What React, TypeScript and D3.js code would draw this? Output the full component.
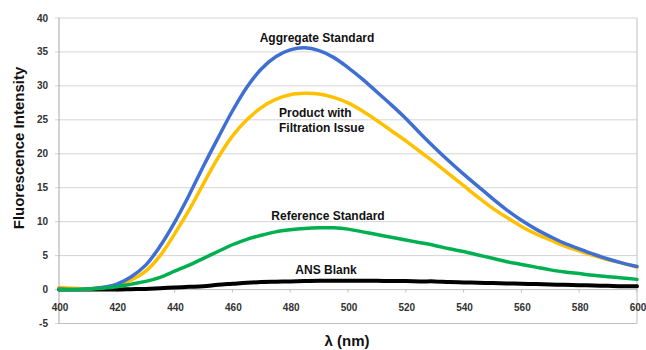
import React from "react";
import * as d3 from "d3";

const wavelengths = [400,405,410,415,420,425,430,435,440,445,450,455,460,465,470,475,480,485,490,495,500,505,510,515,520,525,530,535,540,545,550,555,560,565,570,575,580,585,590,595,600];

const aggregateStandard = [0.1,0.0,0.1,0.3,0.8,1.9,3.6,6.4,9.9,13.9,18.2,22.3,26.3,29.8,32.5,34.3,35.3,35.6,35.2,34.2,32.7,31.0,29.1,27.2,25.2,23.0,20.9,18.9,17.0,15.2,13.4,11.7,10.2,8.9,7.8,6.8,6.0,5.2,4.5,3.9,3.4];
const productFiltrationIssue = [0.3,0.2,0.1,0.3,0.6,1.4,2.7,5.0,8.2,11.7,15.6,19.4,22.6,25.0,26.8,28.0,28.7,28.9,28.8,28.3,27.5,26.3,24.9,23.4,21.9,20.3,18.7,17.0,15.3,13.6,12.0,10.6,9.3,8.2,7.3,6.4,5.7,5.0,4.4,3.9,3.3];
const referenceStandard = [0.0,0.0,0.1,0.2,0.4,0.8,1.2,1.8,2.7,3.6,4.6,5.6,6.6,7.4,8.0,8.5,8.8,9.0,9.1,9.1,8.9,8.5,8.1,7.7,7.3,6.9,6.5,6.0,5.6,5.1,4.6,4.1,3.7,3.3,2.9,2.6,2.35,2.1,1.9,1.7,1.5];
const ansBlank = [0.0,0.0,0.0,0.0,0.0,0.05,0.1,0.2,0.3,0.4,0.5,0.7,0.85,1.0,1.1,1.15,1.2,1.25,1.3,1.3,1.3,1.3,1.3,1.25,1.25,1.2,1.2,1.1,1.05,1.0,0.95,0.9,0.85,0.8,0.75,0.7,0.65,0.6,0.55,0.5,0.5];

const yTicks = [-5,0,5,10,15,20,25,30,35,40];
const xTicks = [400,420,440,460,480,500,520,540,560,580,600];

const series = [
  { name: "ANS Blank", values: ansBlank, color: "#000000", width: 4 },
  { name: "Product with Filtration Issue", values: productFiltrationIssue, color: "#FFC000", width: 3.5 },
  { name: "Aggregate Standard", values: aggregateStandard, color: "#3F6FD2", width: 3.5 },
  { name: "Reference Standard", values: referenceStandard, color: "#00B050", width: 3.5 },
];

const font = "'Liberation Sans', Arial, sans-serif";

export default function App() {
  const x = d3.scaleLinear().domain([400, 600]).range([59, 637]);
  const y = d3.scaleLinear().domain([-5, 40]).range([323.5, 18]);
  const line = d3
    .line<number>()
    .x((_, i) => x(wavelengths[i]))
    .y((v) => y(v))
    .curve(d3.curveCatmullRom);

  return (
    <svg width={646} height={350} style={{ position: "absolute", left: 0, top: 0, background: "#fff" }}>
      {yTicks.map((t) => (
        <g key={t}>
          <line x1={x(400) - 4} x2={x(600)} y1={y(t)} y2={y(t)} stroke={t === 0 ? "#BFBFBF" : "#D4D4D4"} strokeWidth={1} />
          <text x={48} y={y(t)} dy="0.35em" textAnchor="end" fontFamily={font} fontWeight="bold" fontSize={10} fill="#333">
            {t}
          </text>
        </g>
      ))}
      <line x1={x(400)} x2={x(400)} y1={y(40)} y2={y(-5)} stroke="#A6A6A6" />
      <line x1={x(600)} x2={x(600)} y1={y(40)} y2={y(-5)} stroke="#BFBFBF" />
      <line x1={x(400)} x2={x(600)} y1={y(-5)} y2={y(-5)} stroke="#BFBFBF" />
      {xTicks.map((t) => (
        <g key={t}>
          <line x1={x(t)} x2={x(t)} y1={y(0)} y2={y(0) + 3} stroke="#BFBFBF" />
          <text x={x(t) + 1} y={307} dy="0.35em" textAnchor="middle" fontFamily={font} fontWeight="bold" fontSize={10} fill="#333">
            {t}
          </text>
        </g>
      ))}
      {series.map((s) => (
        <path key={s.name} d={line(s.values) || ""} fill="none" stroke={s.color} strokeWidth={s.width} strokeLinejoin="round" strokeLinecap="round" />
      ))}
      <text x={317} y={42} textAnchor="middle" fontFamily={font} fontWeight="bold" fontSize={12} fill="#111">Aggregate Standard</text>
      <text x={279} y={117} fontFamily={font} fontWeight="bold" fontSize={12} fill="#111">Product with</text>
      <text x={279} y={132} fontFamily={font} fontWeight="bold" fontSize={12} fill="#111">Filtration Issue</text>
      <text x={328} y={220} textAnchor="middle" fontFamily={font} fontWeight="bold" fontSize={12} fill="#111">Reference Standard</text>
      <text x={326} y={274} textAnchor="middle" fontFamily={font} fontWeight="bold" fontSize={12} fill="#111">ANS Blank</text>
      <text transform={`translate(24,148) rotate(-90)`} textAnchor="middle" fontFamily={font} fontWeight="bold" fontSize={15} fill="#111">Fluorescence Intensity</text>
      <text x={347} y={346} textAnchor="middle" fontFamily={font} fontWeight="bold" fontSize={15} fill="#111">λ (nm)</text>
    </svg>
  );
}
